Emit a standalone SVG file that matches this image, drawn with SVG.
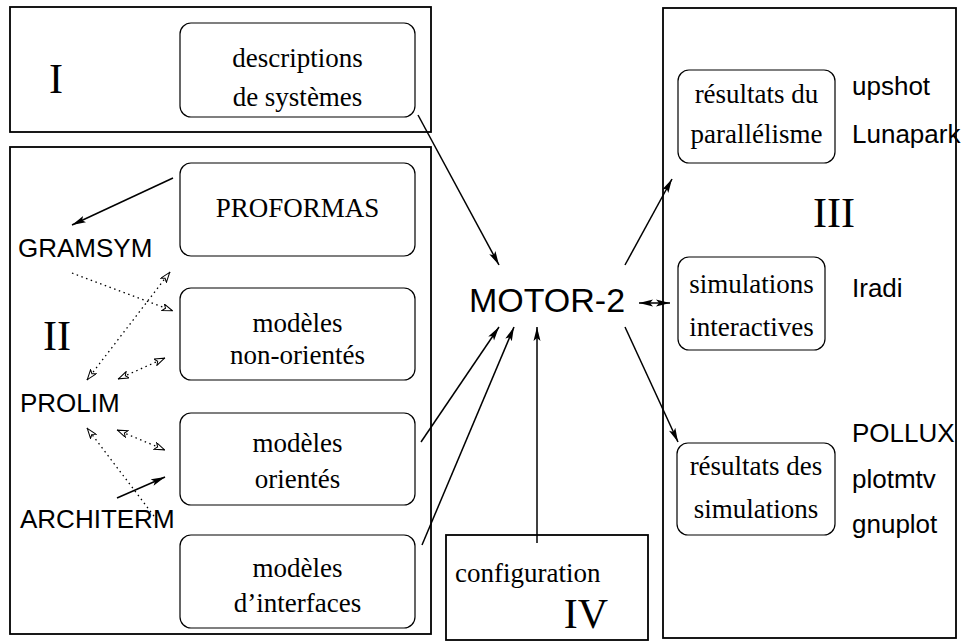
<svg xmlns="http://www.w3.org/2000/svg" width="964" height="643" viewBox="0 0 964 643">
  <defs>
    <style>
      .frame { fill: none; stroke: #000; stroke-width: 1.8; }
      .node { fill: #fff; stroke: #000; stroke-width: 1.2; }
      .serif { font-family: "Liberation Serif", "Times New Roman", serif; fill: #000; }
      .sans { font-family: "Liberation Sans", Arial, sans-serif; fill: #000; }
      .lbl { font-size: 27px; text-anchor: middle; }
      .roman { font-size: 42px; text-anchor: middle; }
      .tool { font-size: 26px; }
      .link { fill: none; stroke: #000; stroke-width: 1.5; }
      .dot { fill: none; stroke: #000; stroke-width: 1.3; stroke-dasharray: 1.5 3.5; }
    </style>
    <marker id="arrow" viewBox="0 0 14 8" refX="14" refY="4" markerWidth="14" markerHeight="8" markerUnits="userSpaceOnUse" orient="auto-start-reverse">
      <path d="M0,0.5 L14,4 L0,7.5 L3,4 z" fill="#000"/>
    </marker>
    <marker id="dotarrow" viewBox="0 0 11 8" refX="11" refY="4" markerWidth="11" markerHeight="8" markerUnits="userSpaceOnUse" orient="auto-start-reverse">
      <path d="M0.5,0.5 L10.5,4 L0.5,7.5 L3,4 z" fill="#fff" stroke="#000" stroke-width="1"/>
    </marker>
  </defs>

  <!-- zone I -->
  <g id="zone-I">
    <rect class="frame" x="10" y="7" width="421" height="125"/>
    <text class="serif roman" x="56" y="93">I</text>
  </g>
  <g id="descriptions">
    <rect class="node" x="180" y="23" width="235" height="94" rx="11"/>
    <text class="serif lbl" x="297.5" y="67">descriptions</text>
    <text class="serif lbl" x="297.5" y="106">de systèmes</text>
  </g>

  <!-- zone II -->
  <g id="zone-II">
    <rect class="frame" x="10" y="147" width="421" height="487"/>
    <text class="serif roman" x="57" y="350">II</text>
  </g>
  <g id="proformas">
    <rect class="node" x="180" y="163" width="235" height="93" rx="11"/>
    <text class="serif lbl" x="297.5" y="217">PROFORMAS</text>
  </g>
  <g id="modeles-non-orientes">
    <rect class="node" x="180" y="288" width="235" height="92" rx="11"/>
    <text class="serif lbl" x="297.5" y="332">modèles</text>
    <text class="serif lbl" x="297.5" y="364">non-orientés</text>
  </g>
  <g id="modeles-orientes">
    <rect class="node" x="180" y="413" width="235" height="92" rx="11"/>
    <text class="serif lbl" x="297.5" y="452">modèles</text>
    <text class="serif lbl" x="297.5" y="488">orientés</text>
  </g>
  <g id="modeles-interfaces">
    <rect class="node" x="180" y="535" width="235" height="93" rx="11"/>
    <text class="serif lbl" x="297.5" y="577">modèles</text>
    <text class="serif lbl" x="297.5" y="612">d’interfaces</text>
  </g>
  <g id="gramsym">
    <text class="sans tool" x="18" y="257">GRAMSYM</text>
  </g>
  <g id="prolim">
    <text class="sans tool" x="20" y="412">PROLIM</text>
  </g>
  <g id="architerm">
    <text class="sans tool" x="20" y="528">ARCHITERM</text>
  </g>

  <!-- central engine -->
  <g id="motor-2">
    <text class="sans" x="547" y="312" font-size="34" text-anchor="middle">MOTOR-2</text>
  </g>

  <!-- zone III -->
  <g id="zone-III">
    <rect class="frame" x="663" y="8" width="293" height="630"/>
    <text class="serif roman" x="834" y="227">III</text>
  </g>
  <g id="resultats-parallelisme">
    <rect class="node" x="678" y="70" width="157" height="93" rx="11"/>
    <text class="serif lbl" x="756.5" y="103">résultats du</text>
    <text class="serif lbl" x="756.5" y="143">parallélisme</text>
  </g>
  <g id="simulations-interactives">
    <rect class="node" x="678" y="257" width="147" height="93" rx="11"/>
    <text class="serif lbl" x="751.5" y="293">simulations</text>
    <text class="serif lbl" x="751.5" y="336">interactives</text>
  </g>
  <g id="resultats-simulations">
    <rect class="node" x="677" y="443" width="158" height="92" rx="11"/>
    <text class="serif lbl" x="756" y="475">résultats des</text>
    <text class="serif lbl" x="756" y="518">simulations</text>
  </g>
  <g id="tools-III">
    <text class="sans tool" x="852" y="95">upshot</text>
    <text class="sans tool" x="852" y="143">Lunapark</text>
    <text class="sans tool" x="852" y="297">Iradi</text>
    <text class="sans tool" x="852" y="442">POLLUX</text>
    <text class="sans tool" x="852" y="488">plotmtv</text>
    <text class="sans tool" x="852" y="533">gnuplot</text>
  </g>

  <!-- zone IV -->
  <g id="zone-IV">
    <rect class="frame" x="446" y="535" width="202" height="105"/>
    <text class="serif" x="455" y="582" font-size="27">configuration</text>
    <text class="serif roman" x="586" y="628">IV</text>
  </g>

  <!-- connectors -->
  <g id="connectors">
    <line class="link" x1="418" y1="115" x2="499" y2="265" marker-end="url(#arrow)"/>
    <line class="link" x1="625" y1="265" x2="672" y2="179" marker-end="url(#arrow)"/>
    <line class="link" x1="639" y1="303" x2="670" y2="303" marker-start="url(#arrow)" marker-end="url(#arrow)"/>
    <line class="link" x1="625" y1="327" x2="678" y2="442" marker-end="url(#arrow)"/>
    <line class="link" x1="421" y1="442" x2="499" y2="327" marker-end="url(#arrow)"/>
    <line class="link" x1="422" y1="545" x2="514" y2="327" marker-end="url(#arrow)"/>
    <line class="link" x1="537" y1="543" x2="537" y2="327" marker-end="url(#arrow)"/>
    <line class="link" x1="173" y1="178" x2="72" y2="225" marker-end="url(#arrow)"/>
    <line class="link" x1="117" y1="498" x2="165" y2="477" marker-end="url(#arrow)"/>

    <line class="dot" x1="72" y1="273" x2="173" y2="311" marker-end="url(#dotarrow)"/>
    <line class="dot" x1="87" y1="380" x2="170" y2="272" marker-start="url(#dotarrow)" marker-end="url(#dotarrow)"/>
    <line class="dot" x1="118" y1="379" x2="165" y2="358" marker-start="url(#dotarrow)" marker-end="url(#dotarrow)"/>
    <line class="dot" x1="117" y1="430" x2="165" y2="450" marker-start="url(#dotarrow)" marker-end="url(#dotarrow)"/>
    <line class="dot" x1="157" y1="520" x2="87" y2="428" marker-end="url(#dotarrow)"/>
  </g>
</svg>
